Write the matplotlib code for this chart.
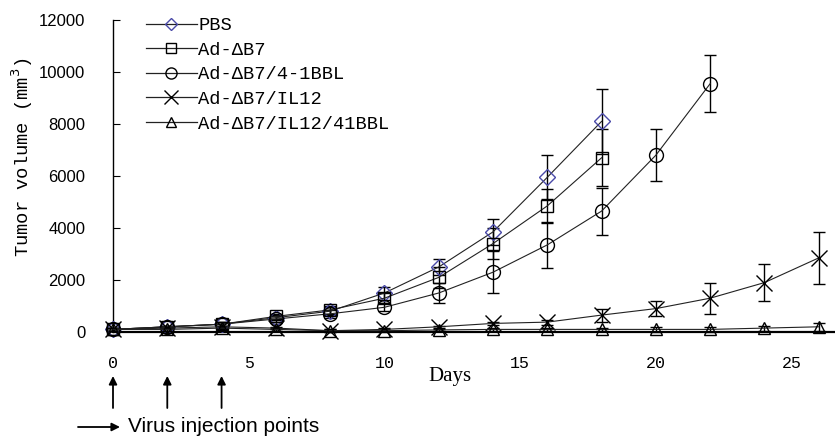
import numpy as np
import matplotlib.pyplot as plt
from matplotlib.lines import Line2D

days = [0, 2, 4, 6, 8, 10, 12, 14, 16, 18, 20, 22, 24, 26]

pbs = [100, 200, 300, 550, 800, 1500, 2500, 3850, 5950, 8100]
pbs_err = [50, 50, 80, 100, 150, 250, 300, 500, 850, 1250]

b7 = [100, 200, 300, 600, 850, 1300, 2100, 3400, 4850, 6700]
b7_err = [50, 50, 80, 100, 150, 200, 400, 600, 650, 1100]

bbl = [100, 200, 300, 500, 700, 950, 1500, 2300, 3350, 4650, 6800, 9550]
bbl_err = [50, 50, 80, 100, 150, 150, 400, 800, 900, 900, 1000, 1100]

il12 = [100, 150, 200, 150, 50, 100, 200, 330, 380, 650, 900, 1300, 1900, 2850]
il12_err = [50, 50, 50, 50, 50, 50, 50, 50, 100, 250, 300, 600, 700, 1000]

combo = [100, 100, 150, 100, 50, 50, 80, 100, 100, 100, 100, 100, 150, 200]
combo_err = [50, 50, 50, 50, 50, 50, 50, 50, 50, 50, 100, 100, 100, 150]

labels = ['PBS', 'Ad-\u0394B7', 'Ad-\u0394B7/4-1BBL', 'Ad-\u0394B7/IL12',
          'Ad-\u0394B7/IL12/41BBL']
yticks = [0, 2000, 4000, 6000, 8000, 10000, 12000]
xticks = [0, 5, 10, 15, 20, 25]

W, H = 835, 441
fig = plt.figure(figsize=(W / 100, H / 100), dpi=100)
ax = fig.add_axes([113 / W, (H - 332) / H, (W - 113) / W, 312 / H])

series = [
    (pbs, pbs_err, 'D', '#4a4aa8', 8),
    (b7, b7_err, 's', 'black', 9),
    (bbl, bbl_err, 'o', 'black', 10),
    (il12, il12_err, 'x', 'black', 12),
    (combo, combo_err, '^', 'black', 9),
]

handles = []
for (vals, err, mk, mc, ms), lab in zip(series, labels):
    x = days[:len(vals)]
    ax.errorbar(x, vals, yerr=err, fmt='none', ecolor='black', elinewidth=1.0,
                capsize=4, capthick=1.0, clip_on=False, zorder=2)
    ax.plot(x, vals, color='#222222', lw=0.8, marker=mk, ms=ms,
            mfc='none', mec=mc, mew=1.0, clip_on=False, zorder=3)
    handles.append(Line2D([], [], color='#222222', lw=0.9, marker=mk,
                          ms=ms * 0.8, mfc='none', mec=mc, mew=1.0))

ax.set_xlim(0, 26.6)
ax.set_ylim(0, 12000)
ax.spines['top'].set_visible(False)
ax.spines['right'].set_visible(False)
ax.spines['left'].set_linewidth(1.0)
ax.spines['bottom'].set_linewidth(1.6)

ax.set_yticks(yticks)
ax.set_yticklabels([str(v) for v in yticks], fontfamily='Liberation Sans',
                   fontsize=12)
ax.tick_params(axis='y', direction='in', length=5, pad=20)
ax.set_xticks(xticks)
ax.set_xticklabels([str(v) for v in xticks], fontfamily='Liberation Mono',
                   fontsize=12)
ax.tick_params(axis='x', length=0, pad=17)

leg = ax.legend(handles, labels, loc='upper left',
                bbox_to_anchor=(146 / W, (H - 17) / H),
                bbox_transform=fig.transFigure, frameon=False,
                prop={'family': 'Liberation Mono', 'size': 13.5},
                handlelength=2.7, handletextpad=0.1, labelspacing=0.4,
                borderpad=0, borderaxespad=0)

fig.text(22 / W, (H - 157) / H, 'Tumor volume (mm$^3$)', rotation=90,
         ha='center', va='center', fontfamily='Liberation Mono', fontsize=13.5)
fig.text(450 / W, (H - 377) / H, 'Days', ha='center', va='center',
         fontfamily='Liberation Serif', fontsize=15)

for d in days[:3]:
    ax.annotate('', xy=(d, H - 376), xycoords=('data', 'figure pixels'),
                xytext=(d, H - 408), textcoords=('data', 'figure pixels'),
                arrowprops=dict(arrowstyle='-|>', color='black', lw=1.3,
                                mutation_scale=12, shrinkA=0, shrinkB=0),
                annotation_clip=False)

ax.annotate('', xy=(120, H - 427), xycoords='figure pixels',
            xytext=(78, H - 427), textcoords='figure pixels',
            arrowprops=dict(arrowstyle='-|>', color='black', lw=1.3,
                            mutation_scale=12, shrinkA=0, shrinkB=0),
            annotation_clip=False)
fig.text(128 / W, (H - 427) / H, 'Virus injection points', ha='left',
         va='center', fontfamily='Liberation Sans', fontsize=15)

fig.savefig('out.png', dpi=100)
